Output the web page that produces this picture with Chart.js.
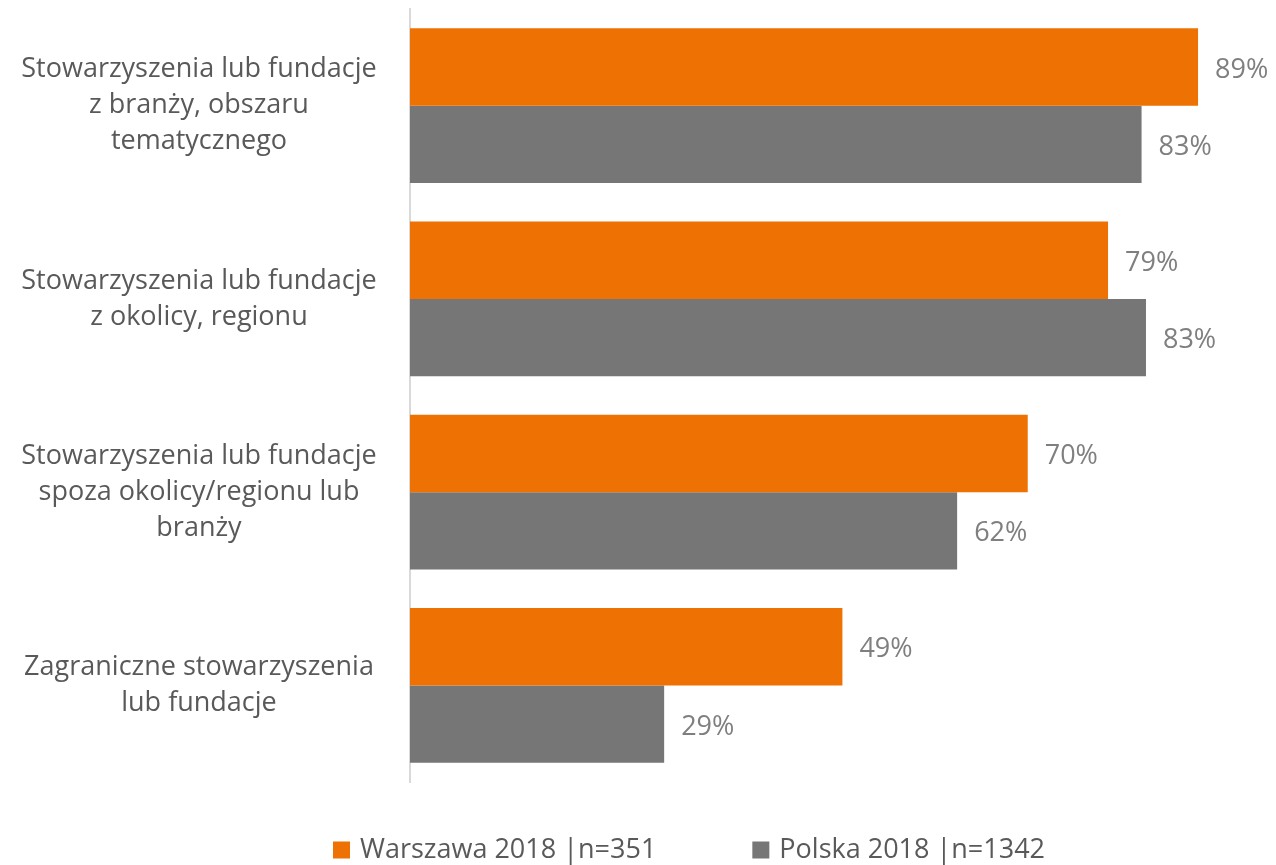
<!DOCTYPE html>
<html>
<head>
<meta charset="utf-8">
<script src="https://cdn.jsdelivr.net/npm/chart.js@4/dist/chart.umd.min.js"></script>
<style>
  html, body { margin: 0; padding: 0; background: #fff; }
  #wrap { width: 1276px; height: 865px; position: relative; }
</style>
</head>
<body>
<div id="wrap"><canvas id="myChart"></canvas></div>
<script>
const categories = [
    ['Stowarzyszenia lub fundacje', 'z branży, obszaru', 'tematycznego'],
    ['Stowarzyszenia lub fundacje', 'z okolicy, regionu'],
    ['Stowarzyszenia lub fundacje', 'spoza okolicy/regionu lub', 'branży'],
    ['Zagraniczne stowarzyszenia', 'lub fundacje']
];
const seriesNames = ['Warszawa 2018 |n=351', 'Polska 2018 |n=1342'];
const warszawa = [89.3, 79.1, 70.0, 49.0];
const polska = [82.9, 83.4, 62.0, 28.8];

const FONT = "'Open Sans', 'Noto Sans', sans-serif";
const labelSize = 27;

// tick padding so the category labels sit centred at x ~199
const measure = document.createElement('canvas').getContext('2d');
measure.font = labelSize + 'px ' + FONT;
let widest = 0;
categories.forEach(lines => lines.forEach(l => { widest = Math.max(widest, measure.measureText(l).width); }));
const tickPad = Math.max(4, 211 - widest / 2);

const valueLabels = {
    id: 'valueLabels',
    afterDatasetsDraw(chart) {
        const ctx = chart.ctx;
        ctx.save();
        ctx.font = labelSize + 'px ' + FONT;
        ctx.fillStyle = '#7f7f7f';
        ctx.textAlign = 'left';
        ctx.textBaseline = 'middle';
        chart.data.datasets.forEach((ds, i) => {
            chart.getDatasetMeta(i).data.forEach((bar, j) => {
                ctx.fillText(Math.round(ds.data[j]) + '%', bar.x + 17, bar.y + 3);
            });
        });
        ctx.restore();
    }
};

const bottomLegend = {
    id: 'bottomLegend',
    afterDraw(chart) {
        const ctx = chart.ctx;
        const size = 27, box = 17, gap = 96;
        let x = 333;
        const y = 850;
        ctx.save();
        ctx.font = size + 'px ' + FONT;
        ctx.textBaseline = 'middle';
        ctx.textAlign = 'left';
        chart.data.datasets.forEach(ds => {
            ctx.fillStyle = ds.backgroundColor;
            ctx.fillRect(x, y - box / 2, box, box);
            ctx.fillStyle = '#595959';
            ctx.fillText(ds.label, x + box + 10, y);
            x += box + 10 + ctx.measureText(ds.label).width + gap;
        });
        ctx.restore();
    }
};

const data = {
    labels: categories,
    datasets: [
        {
            label: seriesNames[0],
            data: warszawa,
            backgroundColor: '#ee7203',
            categoryPercentage: 0.8,
            barPercentage: 1.0
        },
        {
            label: seriesNames[1],
            data: polska,
            backgroundColor: '#767676',
            categoryPercentage: 0.8,
            barPercentage: 1.0
        }
    ]
};

const config = {
    type: 'bar',
    data: data,
    options: {
        indexAxis: 'y',
        responsive: true,
        maintainAspectRatio: false,
        animation: false,
        layout: {
            autoPadding: false,
            padding: { top: 9, bottom: 83, right: 10, left: 0 }
        },
        plugins: {
            legend: { display: false },
            tooltip: { enabled: false }
        },
        scales: {
            x: {
                display: false,
                min: 0,
                max: 97
            },
            y: {
                afterFit: (scale) => {
                    scale.width = 410;
                    // multi-line labels would otherwise push the plot down
                    scale.paddingTop = 0;
                    scale.paddingBottom = 0;
                },
                grid: { display: false, drawTicks: false },
                border: { display: true, color: '#d9d9d9', width: 2 },
                ticks: {
                    crossAlign: 'center',
                    padding: tickPad,
                    color: '#595959',
                    font: { family: FONT, size: labelSize, lineHeight: 1.33 }
                }
            }
        }
    },
    plugins: [valueLabels, bottomLegend]
};

const ctx = document.getElementById('myChart').getContext('2d');
new Chart(ctx, config);
</script>
</body>
</html>
